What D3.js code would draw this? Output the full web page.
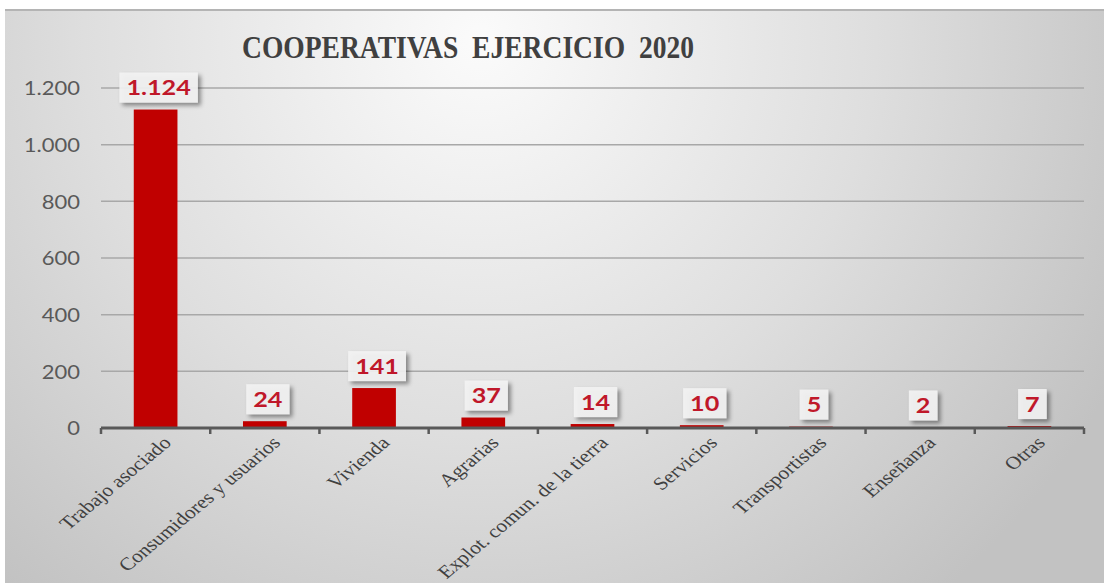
<!DOCTYPE html>
<html>
<head>
<meta charset="utf-8">
<script src="https://cdn.jsdelivr.net/npm/d3@7"></script>
<style>
  body { margin: 0; background: #fff; }
  svg { display: block; }
</style>
</head>
<body>
<div id="chart"></div>
<script>
var categories = ["Trabajo asociado", "Consumidores y usuarios", "Vivienda", "Agrarias",
                  "Explot. comun. de la tierra", "Servicios", "Transportistas", "Enseñanza", "Otras"];
var values = [1124, 24, 141, 37, 14, 10, 5, 2, 7];
var valueLabels = ["1.124", "24", "141", "37", "14", "10", "5", "2", "7"];
var yTicks = [0, 200, 400, 600, 800, 1000, 1200];
var yTickLabels = ["0", "200", "400", "600", "800", "1.000", "1.200"];
var title = "COOPERATIVAS  EJERCICIO  2020";

var W = 1104, H = 587;
var margin = {top: 88, right: 20, bottom: 159, left: 101};
var stretch = 1.2; // the original picture is a bit wider than tall

var svg = d3.select("#chart").append("svg")
    .attr("width", W).attr("height", H);

var defs = svg.append("defs");
var grad = defs.append("radialGradient")
    .attr("id", "bg").attr("gradientUnits", "userSpaceOnUse")
    .attr("cx", 480).attr("cy", 40).attr("r", 720);
grad.append("stop").attr("offset", "0%").attr("stop-color", "#fbfbfb");
grad.append("stop").attr("offset", "55%").attr("stop-color", "#dedede");
grad.append("stop").attr("offset", "100%").attr("stop-color", "#c2c2c2");

var shadow = defs.append("filter").attr("id", "shadow")
    .attr("x", "-30%").attr("y", "-30%").attr("width", "160%").attr("height", "160%");
shadow.append("feDropShadow").attr("dx", 3).attr("dy", 3).attr("stdDeviation", 2)
    .attr("flood-color", "#000").attr("flood-opacity", 0.45);

// background panel
svg.append("rect").attr("x", 5).attr("y", 10).attr("width", W - 5).attr("height", 573)
    .attr("fill", "url(#bg)");
svg.append("line").attr("x1", 5).attr("x2", W).attr("y1", 10).attr("y2", 10)
    .attr("stroke", "#b4b4b4").attr("stroke-width", 2);

// title
svg.append("text")
    .attr("x", 468).attr("y", 58)
    .attr("text-anchor", "middle")
    .style("font-family", "'Liberation Serif', 'Times New Roman', serif")
    .attr("font-weight", "bold")
    .attr("font-size", 32)
    .attr("fill", "#404040")
    .attr("textLength", 452).attr("lengthAdjust", "spacingAndGlyphs")
    .style("white-space", "pre")
    .text(title);

var width = W - margin.left - margin.right;
var height = H - margin.top - margin.bottom;

var g = svg.append("g").attr("transform", "translate(" + margin.left + "," + margin.top + ")");

var x = d3.scaleBand().domain(categories).range([0, width]).paddingInner(0.6).paddingOuter(0.3);
var y = d3.scaleLinear().domain([0, 1200]).range([height, 0]);

// gridlines
g.selectAll(".grid").data(yTicks.filter(d => d > 0)).enter().append("line")
    .attr("class", "grid")
    .attr("x1", 0).attr("x2", width)
    .attr("y1", d => y(d)).attr("y2", d => y(d))
    .attr("stroke", "#a8a8a8").attr("stroke-width", 1.5);

// y labels
g.selectAll(".ylab").data(yTicks).enter().append("text")
    .attr("class", "ylab")
    .attr("transform", d => "translate(-21," + y(d) + ") scale(1.1,1)")
    .attr("dy", "0.36em")
    .attr("text-anchor", "end")
    .attr("font-family", "Lato, sans-serif")
    .attr("font-size", 20)
    .attr("fill", "#595959")
    .text((d, i) => yTickLabels[i]);

// bars
g.selectAll(".bar").data(values).enter().append("rect")
    .attr("class", "bar")
    .attr("x", (d, i) => x(categories[i]))
    .attr("y", d => y(d))
    .attr("width", x.bandwidth())
    .attr("height", d => height - y(d))
    .attr("fill", "#c00000");

// x axis
var tickPos = d3.range(categories.length + 1).map(i => i * width / categories.length);
g.append("line")
    .attr("x1", 0).attr("x2", width)
    .attr("y1", height).attr("y2", height)
    .attr("stroke", "#595959").attr("stroke-width", 3);
g.selectAll(".xtick").data(tickPos).enter().append("line")
    .attr("class", "xtick")
    .attr("x1", d => d).attr("x2", d => d)
    .attr("y1", height).attr("y2", height + 6)
    .attr("stroke", "#595959").attr("stroke-width", 2.5);

// category labels
g.selectAll(".xlab").data(categories).enter().append("text")
    .attr("class", "xlab")
    .attr("transform", d => "translate(" + (x(d) + x.bandwidth() / 2 + 6) + "," + (height + 7) + ") scale(" + stretch + ",1) rotate(-45)")
    .attr("text-anchor", "end")
    .attr("dy", "0.7em")
    .style("font-family", "'Liberation Serif', 'Times New Roman', serif")
    .attr("font-size", 18)
    .attr("fill", "#404040")
    .text(d => d);

// data labels
var lab = g.selectAll(".dlab").data(values).enter().append("g")
    .attr("class", "dlab")
    .attr("transform", (d, i) => "translate(" + (x(categories[i]) + x.bandwidth() / 2 + 3) + "," + (y(d) - 22) + ")");
var box = lab.append("rect")
    .attr("fill", "#f3f3f3").attr("fill-opacity", 0.9)
    .attr("filter", "url(#shadow)");
var txt = lab.append("text")
    .attr("transform", "scale(" + stretch + ",1)")
    .attr("text-anchor", "middle")
    .attr("dy", "0.36em")
    .attr("font-family", "Lato, sans-serif")
    .attr("font-weight", "bold")
    .attr("font-size", 21)
    .attr("fill", "#c0182a")
    .text((d, i) => valueLabels[i]);
txt.each(function(d) {
  var w = this.getComputedTextLength() * stretch;
  d3.select(this.previousSibling)
    .attr("x", -w / 2 - 7).attr("y", -15)
    .attr("width", w + 14).attr("height", 30);
});
</script>
</body>
</html>
